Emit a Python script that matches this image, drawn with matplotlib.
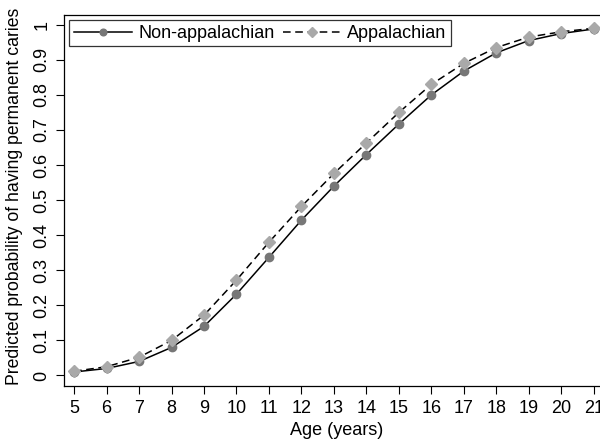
import matplotlib
matplotlib.use("Agg")
import matplotlib.pyplot as plt

plt.rcParams["font.family"] = ["Liberation Sans", "DejaVu Sans"]

ages = [5, 6, 7, 8, 9, 10, 11, 12, 13, 14, 15, 16, 17, 18, 19, 20, 21]
non_appalachian = [0.010, 0.020, 0.040, 0.080, 0.140, 0.232, 0.337, 0.443, 0.540, 0.630,
                   0.717, 0.800, 0.868, 0.920, 0.955, 0.975, 0.988]
appalachian = [0.012, 0.025, 0.052, 0.100, 0.172, 0.272, 0.380, 0.482, 0.576, 0.663,
               0.750, 0.830, 0.890, 0.935, 0.965, 0.980, 0.990]
yticks = [0, 0.1, 0.2, 0.3, 0.4, 0.5, 0.6, 0.7, 0.8, 0.9, 1]
ytick_labels = ["0", "0.1", "0.2", "0.3", "0.4", "0.5", "0.6", "0.7", "0.8", "0.9", "1"]

fs = 13

fig = plt.figure(figsize=(6.0, 4.46), dpi=100)
ax = fig.add_axes([0.1067, 0.1345, 0.91, 0.832])

ax.plot(ages, non_appalachian, color="black", lw=1.1, ls="-",
        marker="o", ms=6, mfc="#777777", mec="#777777", label="Non-appalachian")
ax.plot(ages, appalachian, color="black", lw=1.1, ls=(0, (5, 3)),
        marker="D", ms=6.5, mfc="#a9a9a9", mec="#a9a9a9", label="Appalachian")

ax.set_xlim(4.69, 21.5)
ax.set_ylim(-0.03, 1.028)
ax.set_xticks(ages)
ax.set_yticks(yticks)
ax.set_yticklabels(ytick_labels, rotation=90, va="center")
ax.tick_params(labelsize=fs, length=6, width=0.8, color="black", pad=4)
for s in ax.spines.values():
    s.set_linewidth(0.9)

ax.set_xlabel("Age (years)", fontsize=fs, labelpad=4)
ax.set_ylabel("Predicted probability of having permanent caries", fontsize=12.7)
ax.yaxis.set_label_coords(-0.076, 0.51)

leg = ax.legend(loc="upper left", ncol=2, fontsize=fs, frameon=True, fancybox=False,
                edgecolor="black", borderaxespad=0.3, handlelength=3.2, columnspacing=0.5,
                handletextpad=0.35, borderpad=0.25, markerscale=0.8)
leg.get_frame().set_linewidth(0.9)

fig.savefig("out.png", dpi=100)
